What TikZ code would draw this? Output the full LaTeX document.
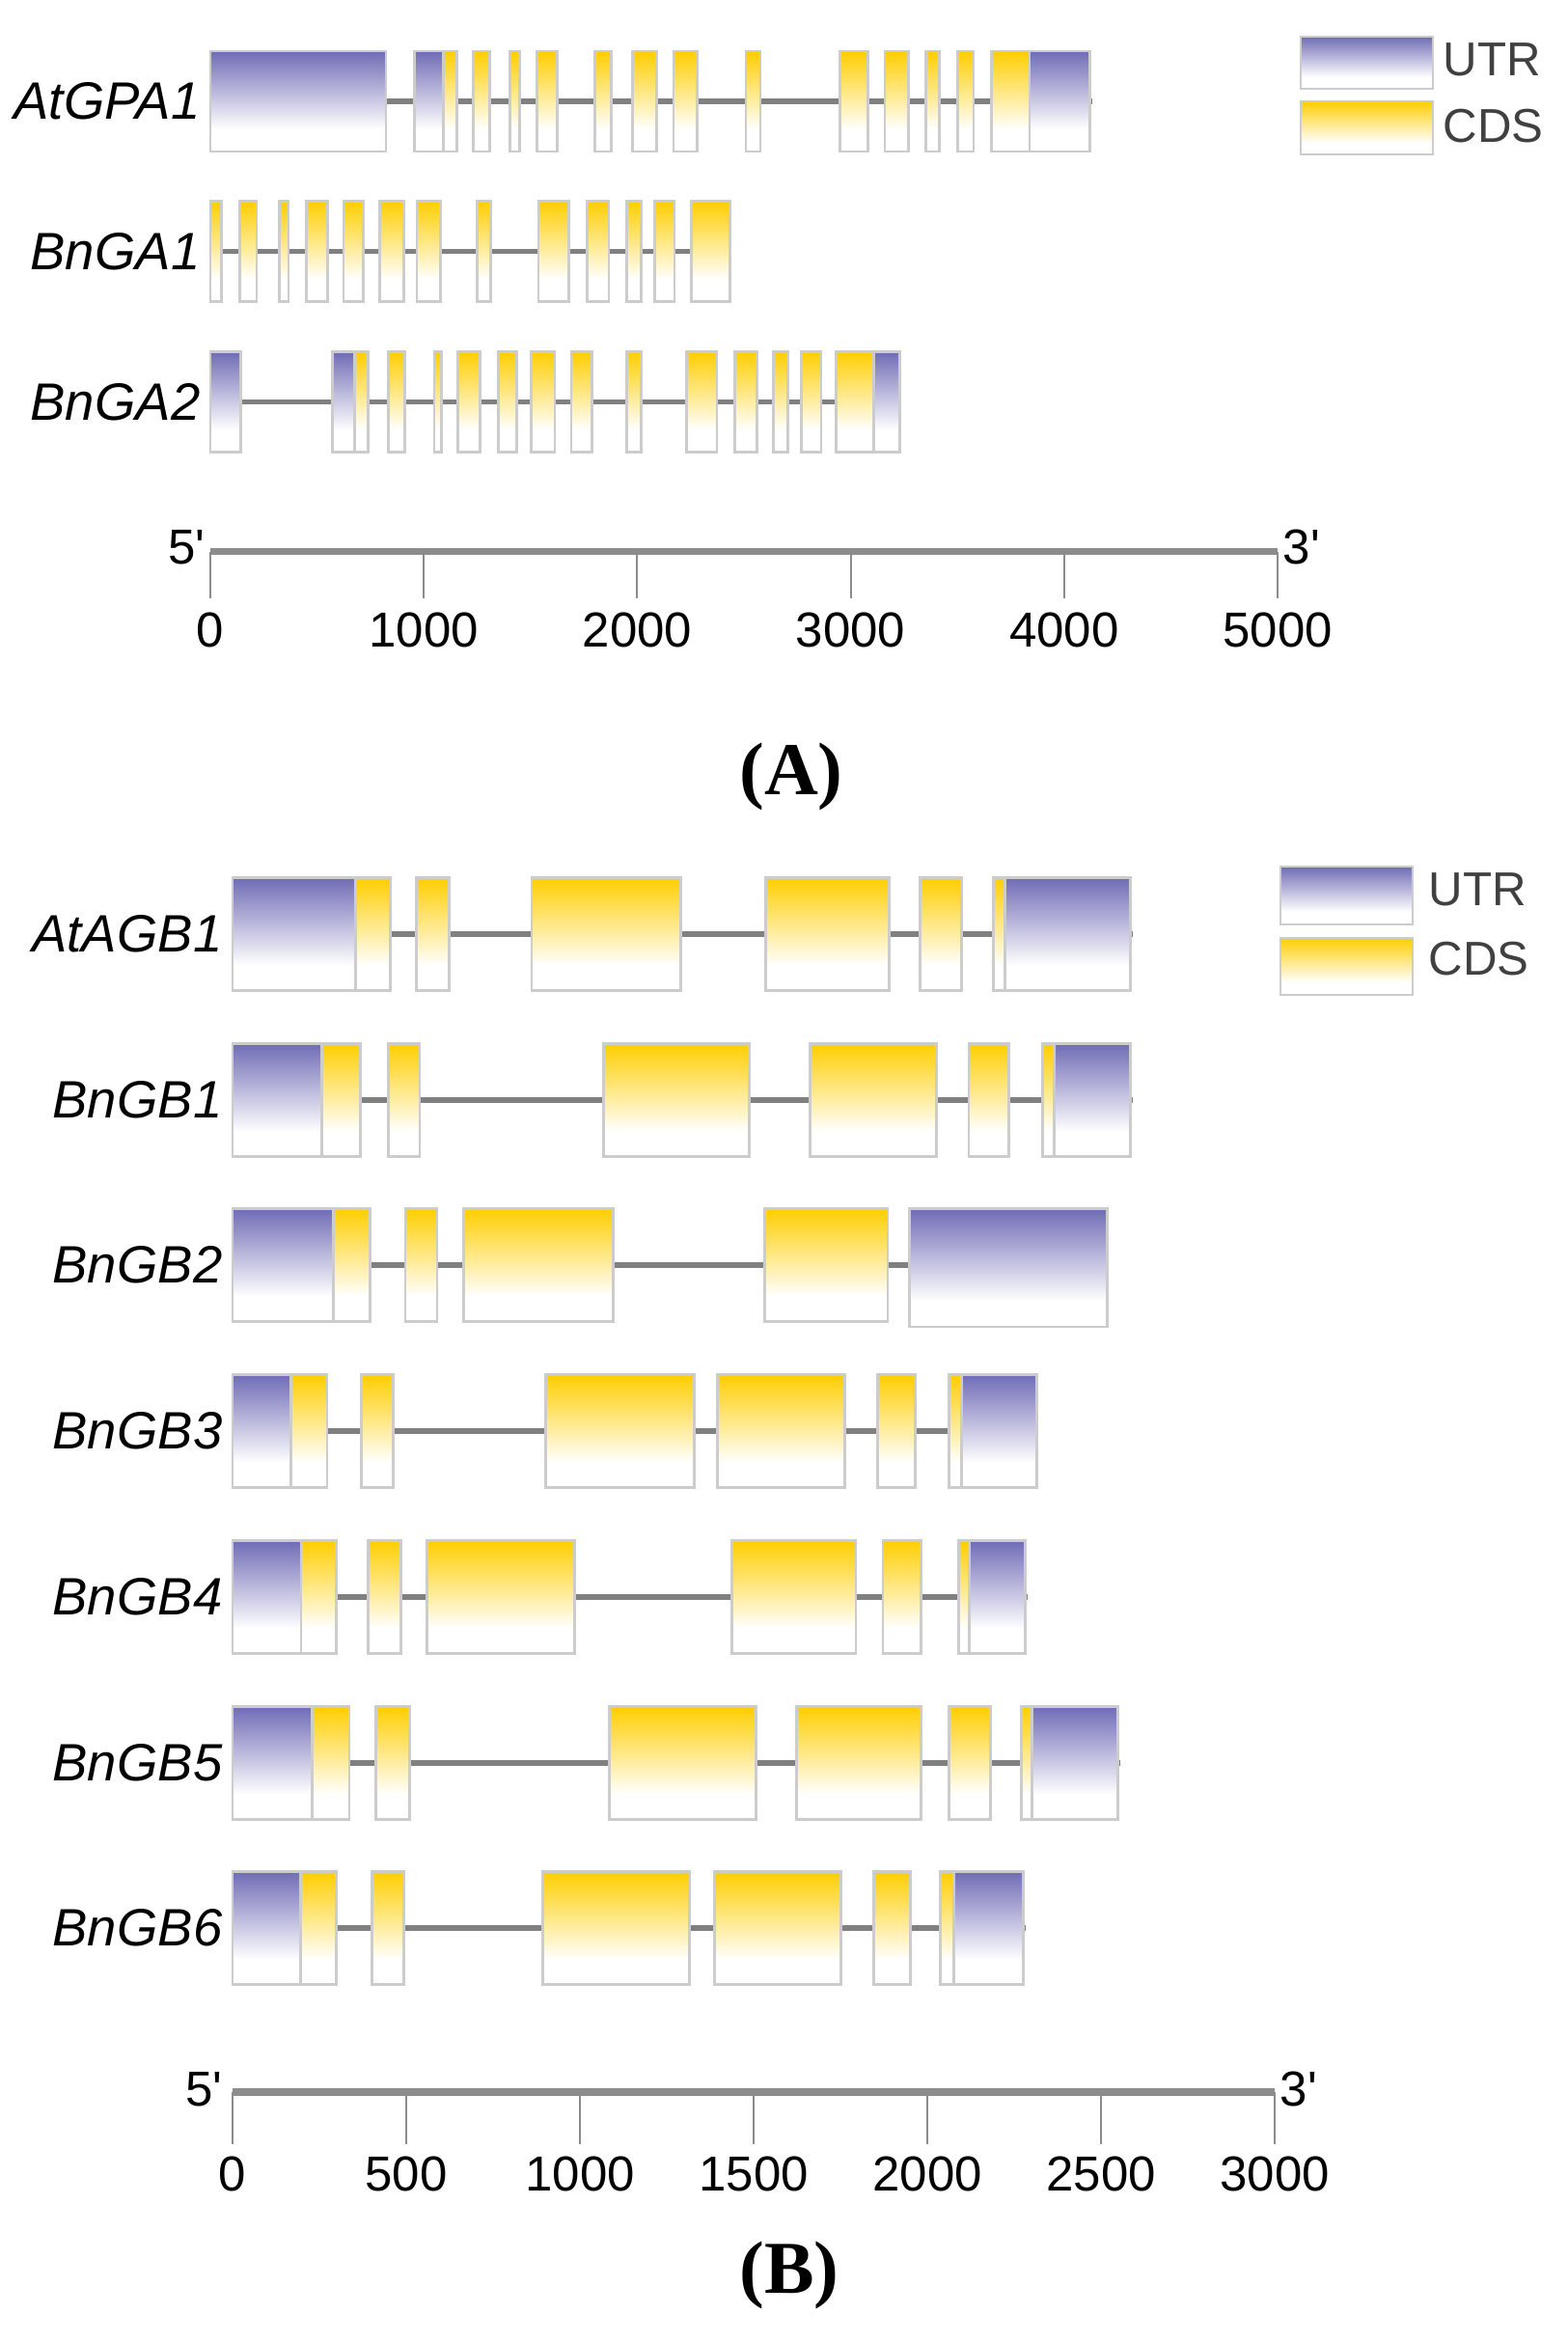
\documentclass[tikz,border=0pt]{standalone}
\usepackage{fontspec}
\setmainfont{Liberation Sans}
\newfontfamily\plainsans{Liberation Sans}
\newfontfamily\capfont{Liberation Serif}
\definecolor{utrblue}{RGB}{112,108,182}
\definecolor{cdsgold}{RGB}{255,206,0}
\pgfdeclareverticalshading{utrfade}{100bp}{color(0bp)=(white); color(36bp)=(white); color(75bp)=(utrblue); color(100bp)=(utrblue)}
\pgfdeclareverticalshading{cdsfade}{100bp}{color(0bp)=(white); color(36bp)=(white); color(75bp)=(cdsgold); color(100bp)=(cdsgold)}
\begin{document}
\begin{tikzpicture}[x=1cm,y=1cm,
	intron/.style={draw=black!50,line width=1.5pt},
	exon/.style={draw=black!20,line width=0.8pt},
	utr/.style={exon,shading=utrfade},
	cds/.style={exon,shading=cdsfade},
	genename/.style={anchor=east,inner sep=0pt,xshift=-1mm,font=\fontsize{15.5}{18}\selectfont\itshape},
	legendtext/.style={anchor=west,inner sep=0pt,text=black!75,font=\fontsize{14}{16}\selectfont},
	ruler/.style={draw=black!45,line width=2pt},
	rulertick/.style={draw=black!45,line width=0.6pt},
	ticklabel/.style={inner sep=0pt,font=\fontsize{14.5}{16}\selectfont\plainsans},
	panel/.style={font=\fontsize{22}{26}\selectfont\capfont\bfseries}]
\useasboundingbox (0,0) rectangle (16.24,24.27);
% (A)
\begin{scope}[shift={(2.18,0)},x=0.00221cm]
	\foreach \gy/\gname/\glen/\gparts in {
		23.22/AtGPA1/4130/{utr/0/823,utr/956/1091,cds/1091/1155,cds/1233/1308,cds/1405/1447,cds/1530/1625,cds/1800/1878,cds/1976/2092,cds/2170/2282,cds/2509/2577,cds/2948/3082,cds/3160/3271,cds/3351/3415,cds/3502/3576,cds/3659/3838,utr/3838/4121},
		21.665/BnGA1/2440/{cds/0/51,cds/139/217,cds/323/366,cds/448/548,cds/624/718,cds/795/905,cds/967/1077,cds/1249/1314,cds/1537/1678,cds/1766/1867,cds/1949/2020,cds/2081/2174,cds/2252/2434},
		20.105/BnGA2/3235/{utr/0/144,utr/570/676,cds/676/740,cds/834/912,cds/1049/1084,cds/1161/1265,cds/1349/1437,cds/1503/1614,cds/1691/1788,cds/1949/2020,cds/2229/2373,cds/2457/2561,cds/2638/2704,cds/2770/2861,cds/2932/3108,utr/3108/3229}}{
		\draw[intron] (0,\gy) -- (\glen,\gy);
		\foreach \seg/\xa/\xb in \gparts
			\draw[\seg] (\xa,\gy-0.52) rectangle (\xb,\gy+0.52);
		\node[genename] (\gname) at (0,\gy) {\gname};
	}
	\draw[ruler] (0,18.55) -- (5000,18.55);
	\foreach \t in {0,1000,...,5000}{
		\draw[rulertick] (\t,18.55) -- (\t,18.07);
		\node[ticklabel] (tickA\t) at (\t,17.74) {\t};
	}
	\node[ticklabel,anchor=east,xshift=-0.5mm] (fiveA) at (0,18.6) {5'};
	\node[ticklabel,anchor=west,xshift=0.5mm] (threeA) at (5000,18.6) {3'};
\end{scope}
\draw[utr] (13.48,23.35) rectangle (14.85,23.89);
\node[legendtext] (utrA) at (14.95,23.65) {UTR};
\draw[cds] (13.48,22.67) rectangle (14.85,23.22);
\node[legendtext] (cdsA) at (14.95,22.96) {CDS};
\node[panel] (capA) at (8.20,16.22) {(A)};
% (B)
\begin{scope}[shift={(2.41,0)},x=0.003605cm]
	\foreach \gy/\gname/\glen/\gparts in {
		14.59/AtAGB1/2592/{utr/0/353,cds/353/453,cds/530/624,cds/861/1291,cds/1534/1889,cds/1978/2098,cds/2190/2224,utr/2224/2585},
		12.87/BnGB1/2592/{utr/0/258,cds/258/367,cds/448/539,cds/1067/1488,cds/1662/2026,cds/2119/2234,cds/2332/2365,utr/2365/2585},
		11.16/BnGB2/2520/{utr/0/290,cds/290/396,cds/497/589,cds/665/1095,cds/1532/1886},
		9.44/BnGB3/2320/{utr/0/169,cds/169/272,cds/370/462,cds/902/1329,cds/1395/1763,cds/1857/1966,cds/2063/2098,utr/2098/2314},
		7.72/BnGB4/2288/{utr/0/197,cds/197/298,cds/390/485,cds/559/984,cds/1438/1794,cds/1872/1981,cds/2089/2121,utr/2121/2282},
		6.00/BnGB5/2556/{utr/0/229,cds/229/336,cds/413/510,cds/1085/1507,cds/1624/1981,cds/2061/2182,cds/2271/2302,utr/2302/2549},
		4.29/BnGB6/2284/{utr/0/195,cds/195/298,cds/401/494,cds/893/1315,cds/1388/1751,cds/1846/1952,cds/2038/2075,utr/2075/2277}}{
		\draw[intron] (0,\gy) -- (\glen,\gy);
		\foreach \seg/\xa/\xb in \gparts
			\draw[\seg] (\xa,\gy-0.585) rectangle (\xb,\gy+0.585);
		\node[genename] (\gname) at (0,\gy) {\gname};
	}
	\draw[utr] (1948,10.52) rectangle (2518,11.745);
	\draw[ruler] (0,2.59) -- (3000,2.59);
	\foreach \t in {0,500,...,3000}{
		\draw[rulertick] (\t,2.59) -- (\t,2.05);
		\node[ticklabel] (tickB\t) at (\t,1.74) {\t};
	}
	\node[ticklabel,anchor=east,xshift=-1mm] (fiveB) at (0,2.62) {5'};
	\node[ticklabel,anchor=west,xshift=0.5mm] (threeB) at (3000,2.62) {3'};
\end{scope}
\draw[utr] (13.27,14.69) rectangle (14.64,15.29);
\node[legendtext] (utrB) at (14.80,15.05) {UTR};
\draw[cds] (13.27,13.96) rectangle (14.64,14.55);
\node[legendtext] (cdsB) at (14.80,14.33) {CDS};
\node[panel] (capB) at (8.18,0.69) {(B)};
\end{tikzpicture}
\end{document}
